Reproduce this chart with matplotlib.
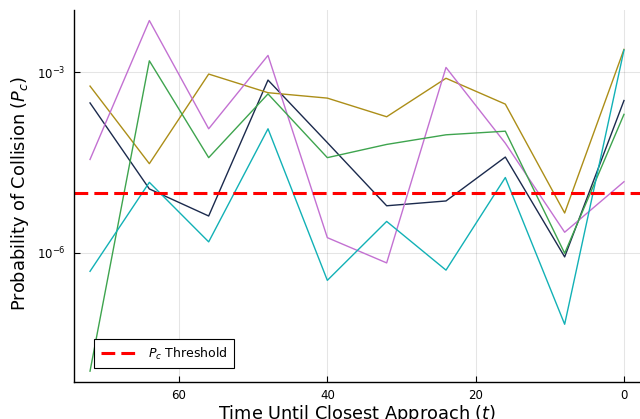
import matplotlib
matplotlib.use("Agg")
import matplotlib.pyplot as plt
import numpy as np

# Data (log10 of Pc)
t = [72, 64, 56, 48, 40, 32, 24, 16, 8, 0]
log_navy   = [-3.51, -4.94, -5.39, -3.13, -4.17, -5.22, -5.14, -4.41, -6.07, -3.47]
log_gold   = [-3.23, -4.52, -3.03, -3.34, -3.43, -3.74, -3.10, -3.53, -5.34, -2.62]
log_purple = [-4.45, -2.14, -3.94, -2.72, -5.75, -6.17, -2.92, -4.18, -5.66, -4.82]
log_green  = [-7.97, -2.81, -4.42, -3.36, -4.42, -4.20, -4.04, -3.98, -6.01, -3.70]
log_teal   = [-6.31, -4.83, -5.82, -3.94, -6.46, -5.48, -6.29, -4.75, -7.19, -2.63]
threshold = 1e-5

series = [log_navy, log_gold, log_purple, log_green, log_teal]
colors = ["#1b2a4d", "#ac8e18", "#c371d2", "#3ea44e", "#12b1b6"]

fig = plt.figure(figsize=(6.4, 4.19), dpi=100)
ax = fig.add_axes([74/640, 1 - 381.7/419, 566/640, (381.7 - 10)/419])

for s, c in zip(series, colors):
    ax.plot(t, 10.0 ** np.array(s), color=c, lw=1.0)

ax.axhline(threshold, color="#ff0000", ls=(0, (4.5, 2.0)), lw=2.2,
           label=r"$P_c$ Threshold")

ax.set_yscale("log")
ax.set_xlim(74.16, -2.16)
ax.set_ylim(10 ** -8.145, 10 ** -1.965)
ax.set_xticks([60, 40, 20, 0])
ax.set_xticklabels(["60", "40", "20", "0"])
ax.set_yticks([1e-6, 1e-3])
ax.set_yticklabels([r"$10^{-6}$", r"$10^{-3}$"])
ax.yaxis.set_minor_locator(matplotlib.ticker.NullLocator())

ax.grid(True, color="black", alpha=0.1, lw=0.8)
ax.spines["top"].set_visible(False)
ax.spines["right"].set_visible(False)
for sp in ["left", "bottom"]:
    ax.spines[sp].set_linewidth(1.0)
ax.tick_params(direction="in", length=4, width=0.8, labelsize=8.5)
ax.tick_params(axis="x", pad=5)
ax.tick_params(axis="y", pad=6)

leg = ax.legend(loc="lower left", fontsize=9, frameon=True, fancybox=False,
                edgecolor="black", framealpha=1.0, borderpad=0.5,
                handlelength=3.0, bbox_to_anchor=(0.025, 0.02))
leg.get_frame().set_linewidth(0.8)

fig.text(357/640, 0.0, r"Time Until Closest Approach $(t)$", ha="center",
         va="baseline", fontsize=12.8)
fig.text(20/640, 1 - 193/419, r"Probability of Collision $(P_c)$", ha="center",
         va="center", rotation=90, fontsize=12.8)

fig.savefig("out.png", dpi=100)
